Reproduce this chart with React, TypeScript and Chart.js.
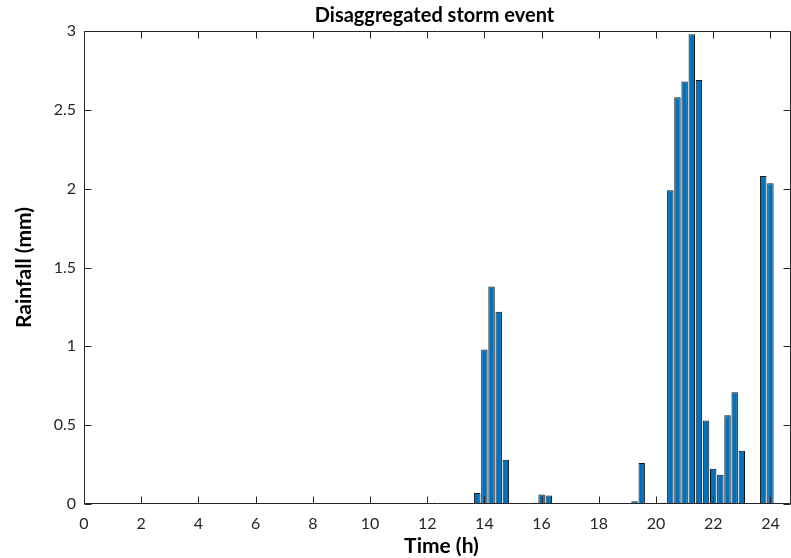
import React, { useEffect, useRef } from "react";
import { Chart, registerables } from "chart.js";

Chart.register(...registerables);

const times = [13.75, 14, 14.25, 14.5, 14.75, 15.75, 16, 16.25, 19.25, 19.5, 20.25, 20.5, 20.75, 21, 21.25, 21.5, 21.75, 22, 22.25, 22.5, 22.75, 23, 23.75, 24];
const rainfall = [0.069, 0.98, 1.38, 1.22, 0.28, 0.008, 0.06, 0.054, 0.018, 0.26, 0.008, 1.99, 2.58, 2.68, 2.98, 2.69, 0.53, 0.224, 0.186, 0.563, 0.709, 0.338, 2.08, 2.035];
const xTicks = [0, 2, 4, 6, 8, 10, 12, 14, 16, 18, 20, 22, 24];
const yTicks = [0, 0.5, 1, 1.5, 2, 2.5, 3];

const titleText = "Disaggregated storm event";
const xLabel = "Time (h)";
const yLabel = "Rainfall (mm)";

const FONT = "Lato, 'Open Sans', sans-serif";
const AXIS_COLOR = "#262626";

const framePlugin = {
  id: "matlabFrame",
  afterDraw(chart: any) {
    const { ctx, chartArea } = chart;
    const xs = chart.scales.x;
    const ys = chart.scales.y;
    const L = Math.round(chartArea.left) + 0.5;
    const T = Math.round(chartArea.top) + 0.5;
    const B = Math.round(chartArea.bottom) - 0.5;
    const R = Math.round(chartArea.right) - 0.5;
    ctx.save();
    ctx.strokeStyle = AXIS_COLOR;
    ctx.lineWidth = 1;
    ctx.beginPath();
    ctx.rect(L, T, R - L, B - T);
    ctx.stroke();
    const tl = 7;
    ctx.beginPath();
    xTicks.forEach((v) => {
      const px = Math.round(xs.getPixelForValue(v)) + 0.5;
      ctx.moveTo(px, B);
      ctx.lineTo(px, B - tl);
      ctx.moveTo(px, T);
      ctx.lineTo(px, T + tl);
    });
    yTicks.forEach((v) => {
      const py = Math.round(ys.getPixelForValue(v)) + 0.5;
      ctx.moveTo(L, py);
      ctx.lineTo(L + tl, py);
      ctx.moveTo(R, py);
      ctx.lineTo(R - tl, py);
    });
    ctx.stroke();

    const cx = (chartArea.left + chartArea.right) / 2;
    const cy = (chartArea.top + chartArea.bottom) / 2;
    ctx.fillStyle = "#000";
    ctx.textAlign = "center";
    ctx.textBaseline = "alphabetic";
    ctx.font = `bold 20px ${FONT}`;
    ctx.fillText(titleText, cx - 3, 22);
    ctx.font = `bold 21px ${FONT}`;
    ctx.fillText(xLabel, cx + 4, 553);
    ctx.save();
    ctx.translate(31, cy);
    ctx.rotate(-Math.PI / 2);
    ctx.fillText(yLabel, 0, 0);
    ctx.restore();
    ctx.restore();
  },
};

export default function App() {
  const ref = useRef<HTMLCanvasElement | null>(null);
  useEffect(() => {
    if (!ref.current) return;
    const chart = new Chart(ref.current, {
      type: "bar",
      data: {
        datasets: [
          {
            data: times.map((t, i) => ({ x: t, y: rainfall[i] })),
            backgroundColor: "#0072BD",
            borderColor: "#111111",
            borderWidth: 1,
            borderSkipped: false,
            barPercentage: 0.9,
            categoryPercentage: 1,
          },
        ],
      },
      options: {
        animation: false,
        responsive: false,
        maintainAspectRatio: false,
        layout: { padding: { top: 31, right: 0, left: 0, bottom: 0 } },
        plugins: { legend: { display: false }, tooltip: { enabled: false }, title: { display: false } },
        scales: {
          x: {
            type: "linear",
            min: 0,
            max: 24.72,
            offset: false,
            grid: { display: false, drawTicks: false },
            border: { display: false },
            afterBuildTicks: (scale: any) => {
              scale.ticks = xTicks.map((v) => ({ value: v }));
            },
            afterFit: (scale: any) => {
              scale.height = 54;
            },
            ticks: {
              padding: 10,
              color: AXIS_COLOR,
              font: { family: FONT, size: 16 },
              maxRotation: 0,
              autoSkip: false,
            },
          },
          y: {
            min: 0,
            max: 3,
            grid: { display: false, drawTicks: false },
            border: { display: false },
            afterBuildTicks: (scale: any) => {
              scale.ticks = yTicks.map((v) => ({ value: v }));
            },
            afterFit: (scale: any) => {
              scale.width = 84;
            },
            ticks: {
              padding: 8,
              color: AXIS_COLOR,
              font: { family: FONT, size: 16 },
              callback: (v: any) => String(v),
            },
          },
        },
      },
      plugins: [framePlugin],
    });
    return () => chart.destroy();
  }, []);
  return (
    <div style={{ position: "absolute", left: 0, top: 0, width: 791, height: 558, background: "#fff" }}>
      <canvas ref={ref} width={791} height={558} style={{ width: 791, height: 558 }} />
    </div>
  );
}
